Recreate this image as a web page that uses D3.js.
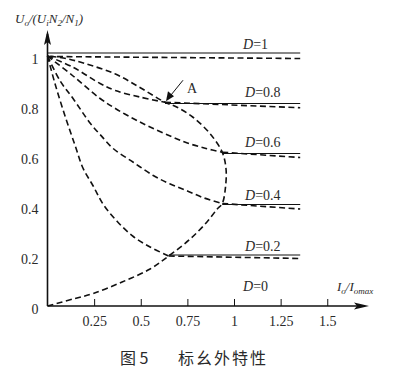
<!DOCTYPE html>
<html lang="zh">
<head>
<meta charset="UTF-8">
<title>fig5</title>
<script src="https://cdn.jsdelivr.net/npm/d3@7"></script>
<style>
  body { margin: 0; background: #fff; }
  svg { display: block; }
</style>
</head>
<body>
<div id="chart"></div>
<script>
// ---- data ----
var xTicks = [0.25, 0.5, 0.75, 1, 1.25, 1.5];
var yTicks = [0, 0.2, 0.4, 0.6, 0.8, 1];

// DCM branches, each from (0,1) down to the boundary
var dcm08 = [[0,1],[0.137,0.955],[0.282,0.89],[0.364,0.862],[0.5,0.835],[0.63,0.815]];
var dcm06 = [[0,1],[0.137,0.92],[0.282,0.83],[0.364,0.79],[0.459,0.75],[0.55,0.716],[0.658,0.68],[0.75,0.652],[0.85,0.63],[0.937,0.615]];
var dcm04 = [[0,1],[0.068,0.9],[0.137,0.83],[0.23,0.73],[0.282,0.686],[0.352,0.63],[0.46,0.575],[0.567,0.522],[0.658,0.488],[0.75,0.46],[0.84,0.432],[0.937,0.41]];
var dcm02 = [[0,1],[0.04,0.89],[0.094,0.76],[0.148,0.642],[0.19,0.552],[0.245,0.48],[0.30,0.405],[0.374,0.338],[0.46,0.278],[0.55,0.236],[0.65,0.2]];

// CCM/DCM boundary
var boundary = [[0,0],[0.137,0.028],[0.245,0.05],[0.40,0.096],[0.55,0.148],[0.65,0.2],[0.765,0.268],[0.855,0.336],[0.91,0.388],[0.937,0.41],
                [0.955,0.48],[0.957,0.55],[0.937,0.615],[0.873,0.688],[0.78,0.755],[0.695,0.795],[0.63,0.815],[0.5,0.872],[0.364,0.928],[0.2,0.97],[0.1,0.99],[0,1]];

// CCM parts: duty ratio, start (junction) x, solid level, dashed start/end level
var dutyLabels = ["D=1", "D=0.8", "D=0.6", "D=0.4", "D=0.2", "D=0"];
var junctionX  = [0, 0.63, 0.937, 0.937, 0.65];
var solidY     = [1.012, 0.81, 0.61, 0.406, 0.204];
var dashStartY = [0.998, 0.815, 0.615, 0.41, 0.2];
var dashEndY   = [0.99, 0.793, 0.594, 0.388, 0.19];
var labelY     = [1.03, 0.835, 0.635, 0.425, 0.222, 0.06];
var xEnd = 1.355;
var pointA = [0.63, 0.815];

var w = 393, h = 379;
var serif = "'Liberation Serif', 'DejaVu Serif', serif";
var ink = "#111", txt = "#2a2a2a";

var svg = d3.select("#chart").append("svg").attr("width", w).attr("height", h);

var x = d3.scaleLinear().domain([0, 1]).range([47.5, 234]);
var y = d3.scaleLinear().domain([0, 1]).range([306, 56]);

// axes
var xa = svg.append("g").attr("transform", "translate(0," + y(0) + ")")
  .call(d3.axisBottom(x).tickValues(xTicks).tickFormat(d3.format("")).tickSizeInner(-7).tickSizeOuter(0).tickPadding(10));
xa.select(".domain").remove();
xa.selectAll(".tick line").attr("stroke", ink).attr("stroke-width", 1);

var ya = svg.append("g").attr("transform", "translate(" + x(0) + ",0)")
  .call(d3.axisLeft(y).tickValues(yTicks).tickFormat(d3.format("")).tickSize(0).tickPadding(9));
ya.select(".domain").remove();
ya.selectAll(".tick text").attr("dy", "0.5em");

svg.selectAll(".tick text").attr("font-family", serif).attr("font-size", 14).attr("fill", txt);

// axis lines with arrows
var xTip = 369, yTip = 30;
svg.append("line").attr("x1", x(0)).attr("y1", y(0)).attr("x2", xTip - 4).attr("y2", y(0))
  .attr("stroke", ink).attr("stroke-width", 1.6);
svg.append("line").attr("x1", x(0)).attr("y1", y(0)).attr("x2", x(0)).attr("y2", yTip + 4)
  .attr("stroke", ink).attr("stroke-width", 1.6);
svg.append("path").attr("d", "M" + xTip + "," + y(0) + "l-15,-3.5l3,3.5l-3,3.5z").attr("fill", ink);
svg.append("path").attr("d", "M" + x(0) + "," + yTip + "l-3.5,15l3.5,-3l3.5,3z").attr("fill", ink);

var line = d3.line().x(function(d){ return x(d[0]); }).y(function(d){ return y(d[1]); })
  .curve(d3.curveCatmullRom.alpha(0.5));

function dashed(data) {
  svg.append("path").attr("d", line(data)).attr("fill", "none")
    .attr("stroke", ink).attr("stroke-width", 1.6).attr("stroke-dasharray", "6,3.5");
}

[dcm08, dcm06, dcm04, dcm02, boundary].forEach(dashed);

// CCM: solid ideal level and dashed real level
junctionX.forEach(function(jx, i) {
  svg.append("line").attr("x1", x(jx)).attr("x2", x(xEnd)).attr("y1", y(solidY[i])).attr("y2", y(solidY[i]))
    .attr("stroke", ink).attr("stroke-width", 1.1);
  svg.append("line").attr("x1", x(jx)).attr("x2", x(xEnd)).attr("y1", y(dashStartY[i])).attr("y2", y(dashEndY[i]))
    .attr("stroke", ink).attr("stroke-width", 1.6).attr("stroke-dasharray", "6,3.5");
});

function label(px, py, size) {
  return svg.append("text").attr("x", px).attr("y", py)
    .attr("font-family", serif).attr("font-size", size).attr("fill", txt);
}

// D labels
dutyLabels.forEach(function(t, i) {
  var tx = label(i === 0 || i === 5 ? 243 : 245, y(labelY[i]), 14);
  tx.append("tspan").attr("font-style", "italic").text("D");
  tx.append("tspan").text(t.slice(1));
});

// point A with arrow
var ax = x(pointA[0]), ay = y(pointA[1]);
svg.append("line").attr("x1", ax + 18).attr("y1", ay - 22).attr("x2", ax + 5).attr("y2", ay - 6)
  .attr("stroke", ink).attr("stroke-width", 1);
svg.append("path").attr("fill", ink)
  .attr("d", "M" + (ax + 1) + "," + (ay - 1) + "L" + (ax + 3) + "," + (ay - 11) + "L" + (ax + 9) + "," + (ay - 6) + "Z");
label(ax + 22, ay - 9, 14).text("A");

// axis titles
var yt = label(15, 23, 13).attr("font-style", "italic");
yt.append("tspan").text("U");
yt.append("tspan").attr("font-size", 9).attr("dy", 3).text("o");
yt.append("tspan").attr("dy", -3).text("/(U");
yt.append("tspan").attr("font-size", 9).attr("dy", 3).text("i");
yt.append("tspan").attr("dy", -3).text("N");
yt.append("tspan").attr("font-size", 9).attr("dy", 3).text("2");
yt.append("tspan").attr("dy", -3).text("/N");
yt.append("tspan").attr("font-size", 9).attr("dy", 3).text("1");
yt.append("tspan").attr("dy", -3).text(")");

var xt = label(337, 291, 13).attr("font-style", "italic");
xt.append("tspan").text("I");
xt.append("tspan").attr("font-size", 9).attr("dy", 3).text("o");
xt.append("tspan").attr("dy", -3).text("/I");
xt.append("tspan").attr("font-size", 9).attr("dy", 3).text("omax");

// caption
svg.append("text").attr("x", 120).attr("y", 364)
  .attr("font-family", "'Noto Sans CJK SC', sans-serif").attr("font-size", 16).attr("fill", txt)
  .text("图 5");
svg.append("text").attr("x", 178).attr("y", 364)
  .attr("font-family", "'Noto Sans CJK SC', sans-serif").attr("font-size", 16).attr("fill", txt)
  .attr("letter-spacing", 2)
  .text("标幺外特性");
</script>
</body>
</html>
